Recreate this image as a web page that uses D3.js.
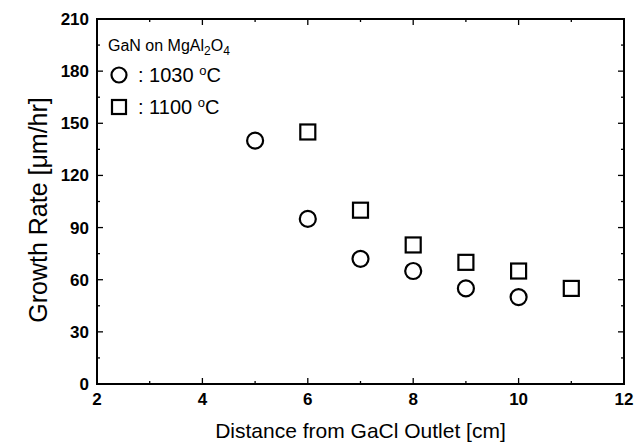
<!DOCTYPE html>
<html>
<head>
<meta charset="utf-8">
<script src="https://cdn.jsdelivr.net/npm/d3@7"></script>
<style>
  body { margin: 0; background: #fff; }
  text { font-family: "Liberation Sans", Arial, sans-serif; fill: #000; }
</style>
</head>
<body>
<svg id="chart"></svg>
<script>
// distance [cm] and growth rate [um/hr]
const dist1030 = [5, 6, 7, 8, 9, 10];
const rate1030 = [140, 95, 72, 65, 55, 50];
const dist1100 = [6, 7, 8, 9, 10, 11];
const rate1100 = [145, 100, 80, 70, 65, 55];
const xTicks = [2, 4, 6, 8, 10, 12];
const yTicks = [0, 30, 60, 90, 120, 150, 180, 210];

const svg = d3.select('#chart')
  .attr('width', 644)
  .attr('height', 448);

const margin = { top: 19, right: 20, bottom: 64, left: 97 };
const width = 644;
const height = 448;

const x = d3.scaleLinear()
  .domain([2, 12])
  .range([margin.left, width - margin.right]);

const y = d3.scaleLinear()
  .domain([0, 210])
  .range([height - margin.bottom, margin.top]);

const xMinor = d3.range(2, 12.01, 1);
const yMinor = d3.range(0, 210.01, 15);

// inward ticks on all four sides
const g = svg.append('g').attr('stroke', '#000').attr('stroke-width', 1.3);
xMinor.forEach(v => {
  const len = v % 2 === 0 ? 6 : 3;
  g.append('line').attr('x1', x(v)).attr('x2', x(v))
    .attr('y1', y(0)).attr('y2', y(0) - len);
  g.append('line').attr('x1', x(v)).attr('x2', x(v))
    .attr('y1', y(210)).attr('y2', y(210) + len);
});
yMinor.forEach(v => {
  const len = v % 30 === 0 ? 6 : 3;
  g.append('line').attr('y1', y(v)).attr('y2', y(v))
    .attr('x1', x(2)).attr('x2', x(2) + len);
  g.append('line').attr('y1', y(v)).attr('y2', y(v))
    .attr('x1', x(12)).attr('x2', x(12) - len);
});

svg.append('rect')
  .attr('x', x(2)).attr('y', y(210))
  .attr('width', x(12) - x(2)).attr('height', y(0) - y(210))
  .attr('fill', 'none').attr('stroke', '#000').attr('stroke-width', 2);

// tick labels
svg.append('g').selectAll('text').data(xTicks).join('text')
  .attr('x', d => x(d)).attr('y', y(0) + 21)
  .attr('text-anchor', 'middle')
  .style('font-size', '17px').style('font-weight', 'bold')
  .text(d => d);

svg.append('g').selectAll('text').data(yTicks).join('text')
  .attr('x', x(2) - 8).attr('y', d => y(d) + 6)
  .attr('text-anchor', 'end')
  .style('font-size', '17px').style('font-weight', 'bold')
  .text(d => d);

// axis titles
svg.append('text')
  .attr('x', (x(2) + x(12)) / 2).attr('y', 438)
  .attr('text-anchor', 'middle')
  .style('font-size', '21px')
  .text('Distance from GaCl Outlet [cm]');

svg.append('text')
  .attr('transform', 'translate(47,210) rotate(-90)')
  .attr('text-anchor', 'middle')
  .style('font-size', '25px')
  .text('Growth Rate [μm/hr]');

// data points
svg.append('g').selectAll('circle').data(dist1030).join('circle')
  .attr('cx', d => x(d))
  .attr('cy', (d, i) => y(rate1030[i]))
  .attr('r', 8)
  .attr('fill', 'none').attr('stroke', '#000').attr('stroke-width', 2.2);

const s = 15;
svg.append('g').selectAll('rect').data(dist1100).join('rect')
  .attr('x', d => x(d) - s / 2)
  .attr('y', (d, i) => y(rate1100[i]) - s / 2)
  .attr('width', s).attr('height', s)
  .attr('fill', 'none').attr('stroke', '#000').attr('stroke-width', 2.2);

// legend
const title = svg.append('text')
  .attr('x', 108).attr('y', 51)
  .style('font-size', '16px');
title.append('tspan').text('GaN on MgAl');
title.append('tspan').attr('dy', 4).style('font-size', '12px').text('2');
title.append('tspan').attr('dy', -4).text('O');
title.append('tspan').attr('dy', 4).style('font-size', '12px').text('4');

svg.append('circle')
  .attr('cx', 119).attr('cy', 75).attr('r', 7.5)
  .attr('fill', 'none').attr('stroke', '#000').attr('stroke-width', 2.2);
svg.append('rect')
  .attr('x', 112).attr('y', 100).attr('width', 14).attr('height', 14)
  .attr('fill', 'none').attr('stroke', '#000').attr('stroke-width', 2.2);

[[': 1030 ', 82], [': 1100 ', 114]].forEach(([t, yy]) => {
  const lt = svg.append('text').attr('x', 138).attr('y', yy).style('font-size', '20px');
  lt.append('tspan').text(t);
  lt.append('tspan').attr('dy', -7).style('font-size', '13px').text('o');
  lt.append('tspan').attr('dy', 7).text('C');
});
</script>
</body>
</html>
